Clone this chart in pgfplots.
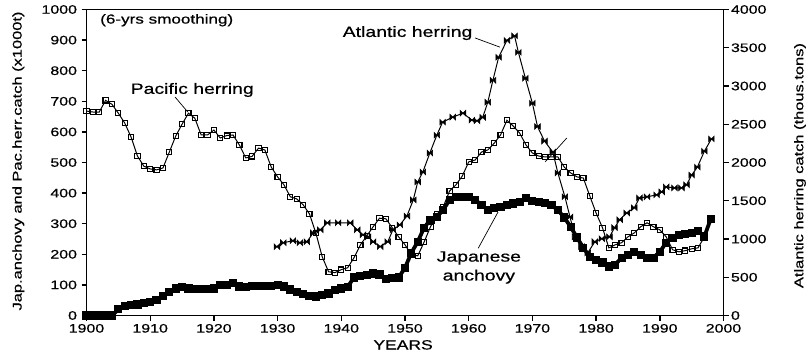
\documentclass[border=0pt]{standalone}
\usepackage{fontspec}
\setmainfont{Liberation Sans}[FakeStretch=1.3, FakeBold=0.6]
\usepackage{pgfplots}
\pgfplotsset{compat=1.18}
\pgfdeclareplotmark{bowtie}{%
  \pgfpathmoveto{\pgfqpoint{-\pgfplotmarksize}{\pgfplotmarksize}}%
  \pgfpathlineto{\pgfqpoint{\pgfplotmarksize}{-\pgfplotmarksize}}%
  \pgfpathlineto{\pgfqpoint{\pgfplotmarksize}{\pgfplotmarksize}}%
  \pgfpathlineto{\pgfqpoint{-\pgfplotmarksize}{-\pgfplotmarksize}}%
  \pgfpathclose\pgfusepathqfillstroke}
\begin{document}
\begin{tikzpicture}
\pgfplotsset{
  common/.style={
    at={(0,0)}, anchor=south west,
    scale only axis, width=637bp, height=306bp,
    xmin=1900, xmax=2000,
    tick align=outside, major tick length=5bp,
    every tick/.style={black, line width=1.4pt},
    axis line style={line width=1.7pt},
    /pgf/number format/assume math mode=true,
    /pgf/number format/1000 sep={},
    tick label style={font=\fontsize{12.3}{14}\selectfont},
    label style={font=\fontsize{12.7}{15}\selectfont},
  }
}
\begin{axis}[common,
  ymin=0, ymax=1000,
  xtick={1900,1910,...,2000}, ytick={0,100,...,1000},
  xtick pos=bottom, ytick pos=left,
  xlabel={YEARS},
  xlabel style={at={(axis description cs:0.497,-0.096)}, anchor=center, font=\fontsize{13.5}{16}\selectfont},
  ylabel={Jap.anchovy and Pac.herr.catch (x1000t)},
  ylabel style={at={(axis description cs:-0.107,0.505)}, anchor=center},
  yticklabel style={xshift=-1bp},
]
% Pacific herring
\addplot[black, line width=1pt, mark=square, mark size=2.6pt, mark options={solid, line width=1.1pt, fill=white}] coordinates {
(1900,668)(1901,665)(1902,665)(1903,703)(1904,690)(1905,661)(1906,629)(1907,583)(1908,521)(1909,488)
(1910,479)(1911,476)(1912,482)(1913,534)(1914,586)(1915,625)(1916,661)(1917,645)(1918,590)(1919,590)
(1920,606)(1921,580)(1922,588)(1923,590)(1924,557)(1925,515)(1926,520)(1927,547)(1928,541)(1929,485)
(1930,453)(1931,427)(1932,388)(1933,381)(1934,362)(1935,332)(1936,270)(1937,192)(1938,143)(1939,140)
(1940,150)(1941,156)(1942,189)(1943,231)(1944,260)(1945,290)(1946,318)(1947,316)(1948,287)(1949,257)
(1950,231)(1951,199)(1952,195)(1953,240)(1954,290)(1955,330)(1956,355)(1957,407)(1958,427)(1959,456)
(1960,502)(1961,508)(1962,534)(1963,541)(1964,563)(1965,590)(1966,638)(1967,619)(1968,596)(1969,557)
(1970,531)(1971,521)(1972,518)(1973,518)(1974,518)(1975,485)(1976,466)(1977,453)(1978,449)(1979,391)
(1980,335)(1981,287)(1982,221)(1983,231)(1984,238)(1985,257)(1986,270)(1987,290)(1988,303)(1989,290)
(1990,280)(1991,257)(1992,215)(1993,208)(1994,212)(1995,218)(1996,221)(1997,257)
};
% Japanese anchovy
\addplot[black, line width=3.8pt, mark=square*, mark size=2.2pt, mark options={solid}] coordinates {
(1900,0)(1901,0)(1902,0)(1903,0)(1904,0)(1905,20)(1906,30)(1907,33)(1908,36)(1909,40)
(1910,45)(1911,51)(1912,65)(1913,78)(1914,88)(1915,93)(1916,88)(1917,86)(1918,86)(1919,86)
(1920,88)(1921,99)(1922,101)(1923,106)(1924,95)(1925,93)(1926,96)(1927,96)(1928,96)(1929,96)
(1930,99)(1931,95)(1932,85)(1933,77)(1934,70)(1935,63)(1936,62)(1937,66)(1938,72)(1939,82)
(1940,88)(1941,94)(1942,124)(1943,130)(1944,133)(1945,137)(1946,134)(1947,120)(1948,122)(1949,124)
(1950,156)(1951,205)(1952,241)(1953,287)(1954,313)(1955,322)(1956,345)(1957,378)(1958,388)(1959,388)
(1960,388)(1961,378)(1962,362)(1963,345)(1964,350)(1965,355)(1966,362)(1967,366)(1968,372)(1969,384)
(1970,375)(1971,371)(1972,368)(1973,360)(1974,345)(1975,320)(1976,290)(1977,255)(1978,221)(1979,192)
(1980,182)(1981,173)(1982,160)(1983,166)(1984,189)(1985,199)(1986,208)(1987,199)(1988,189)(1989,189)
(1990,208)(1991,238)(1992,254)(1993,262)(1994,266)(1995,270)(1996,277)(1997,258)(1998,316)
};
\node[font=\fontsize{13.2}{15}\selectfont, anchor=west] at (axis cs:1901.6,965) {(6-yrs smoothing)};
\node[font=\fontsize{15}{18}\selectfont] at (axis cs:1916.6,737) {Pacific herring};
\draw[black, line width=0.7pt] (axis cs:1913.9,714) -- (axis cs:1915.9,665);
\node[font=\fontsize{15}{18}\selectfont] at (axis cs:1950.4,923) {Atlantic herring};
\draw[black, line width=0.7pt] (axis cs:1961.0,907) -- (axis cs:1964.9,877);
\node[font=\fontsize{15}{19}\selectfont, align=center] at (axis cs:1961.6,157) {Japanese\\anchovy};
\draw[black, line width=0.7pt] (axis cs:1961.5,220) -- (axis cs:1964.6,338);
\draw[black, line width=0.7pt] (axis cs:1972.0,502) -- (axis cs:1975.4,580);
\end{axis}
\begin{axis}[common,
  ymin=0, ymax=4000,
  ytick={0,500,...,4000},
  axis y line*=right, axis x line=none,
  ylabel={Atlantic herring catch (thous.tons)},
  ylabel style={at={(axis description cs:1.12,0.49)}, anchor=center},
  yticklabel style={xshift=-1bp},
]
\addplot[black, line width=1pt, mark=bowtie, mark size=2.8pt, mark options={solid, fill=black, line width=0.6pt}] coordinates {
(1929.9,900)(1930.9,951)(1932.4,977)(1933.5,951)(1934.6,964)(1935.6,1081)(1936.7,1120)(1937.8,1212)
(1939.5,1212)(1941.4,1212)(1942.5,1120)(1943.4,1055)(1944.2,1028)(1945,964)(1946.1,900)(1947.3,964)
(1948.1,1120)(1949.2,1185)(1950.3,1300)(1951.3,1511)(1952,1746)(1952.8,1876)(1953.9,2124)(1955,2358)
(1955.9,2528)(1957.5,2593)(1959.1,2645)(1960.5,2554)(1961.3,2545)(1962.2,2590)(1963,2788)(1963.8,3075)
(1964.7,3375)(1966,3596)(1967.2,3655)(1967.8,3440)(1968.9,3101)(1970,2775)(1970.8,2470)(1971.9,2280)
(1973.2,2137)(1974,1863)(1975.1,1552)(1975.9,1288)(1976.7,1028)(1977.7,900)(1978.7,820)(1979.8,964)
(1980.9,1004)(1982.1,1028)(1982.9,1148)(1983.7,1252)(1984.8,1340)(1986,1408)(1986.8,1536)(1988,1552)
(1989.5,1576)(1990.3,1616)(1991,1680)(1992.3,1668)(1993.4,1668)(1994.2,1708)(1995,1836)(1995.9,1940)
(1997,2148)(1998.1,2308)
};
\end{axis}
\path[use as bounding box] (-86.5bp,-39.5bp) rectangle (725.5bp,315.5bp);
\end{tikzpicture}
\end{document}
